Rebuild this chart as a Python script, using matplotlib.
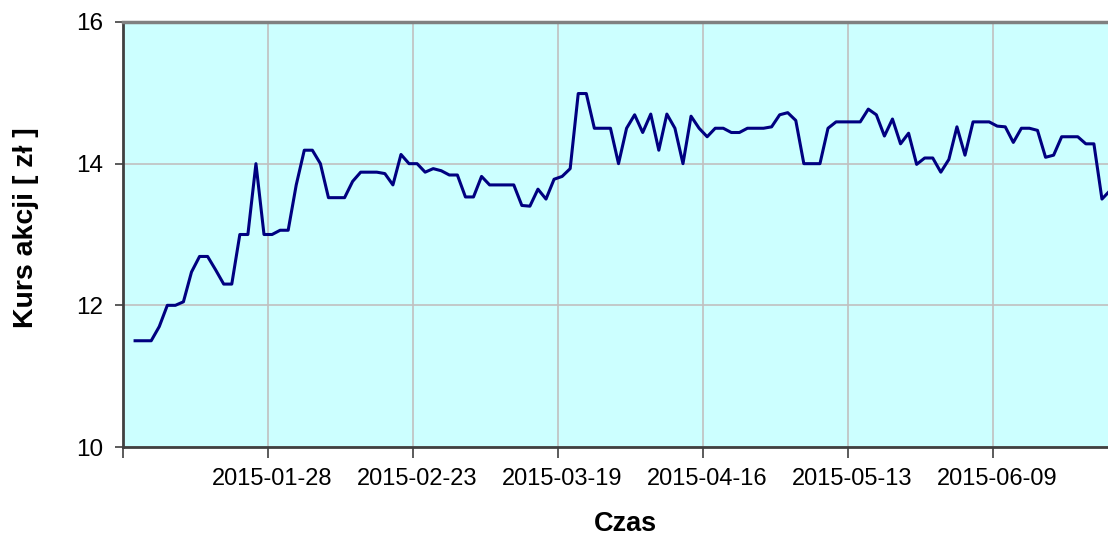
import matplotlib
matplotlib.use("Agg")
import matplotlib.pyplot as plt
from matplotlib.ticker import FixedLocator, NullFormatter

plt.rcParams['font.family'] = ['Liberation Sans', 'DejaVu Sans']

# kurs zamkniecia, kolejne sesje od 2015-01-02
kurs = [11.5, 11.5, 11.5, 11.7, 12.0, 12.0, 12.05, 12.47, 12.69, 12.69,
        12.5, 12.3, 12.3, 13.0, 13.0, 14.0, 13.0, 13.0, 13.06, 13.06,
        13.7, 14.19, 14.19, 14.0, 13.52, 13.52, 13.52, 13.75, 13.88, 13.88,
        13.88, 13.86, 13.7, 14.13, 14.0, 14.0, 13.88, 13.93, 13.9, 13.84,
        13.84, 13.53, 13.53, 13.82, 13.7, 13.7, 13.7, 13.7, 13.41, 13.4,
        13.64, 13.5, 13.78, 13.82, 13.93, 14.99, 14.99, 14.5, 14.5, 14.5,
        14.0, 14.5, 14.69, 14.44, 14.7, 14.19, 14.7, 14.5, 14.0, 14.67,
        14.5, 14.38, 14.5, 14.5, 14.44, 14.44, 14.5, 14.5, 14.5, 14.52,
        14.69, 14.72, 14.61, 14.0, 14.0, 14.0, 14.5, 14.59, 14.59, 14.59,
        14.59, 14.77, 14.69, 14.39, 14.63, 14.28, 14.43, 13.99, 14.08, 14.08,
        13.88, 14.06, 14.52, 14.12, 14.59, 14.59, 14.59, 14.53, 14.52, 14.3,
        14.5, 14.5, 14.47, 14.09, 14.12, 14.38, 14.38, 14.38, 14.28, 14.28,
        13.5, 13.62]

daty_etykiety = ["2015-01-28", "2015-02-23", "2015-03-19",
                 "2015-04-16", "2015-05-13", "2015-06-09"]
pierwsza_etykieta = 17   # indeks sesji 2015-01-28
krok = 18                # co ile sesji etykieta
y_ticks = [10, 12, 14, 16]

fig = plt.figure(figsize=(11.08, 5.38), dpi=100)
ax = fig.add_axes([123 / 1108, 91 / 538, 985 / 1108, 425 / 538])
ax.set_facecolor('#CCFFFF')

x = list(range(len(kurs)))
ax.plot(x, kurs, color='#000080', linewidth=2.2, zorder=3)

# etykiety na srodku kategorii, kreski i siatka na granicach
pozycje = [pierwsza_etykieta + krok * k for k in range(len(daty_etykiety))]
granice = [pierwsza_etykieta - krok - 0.5] + [p - 0.5 for p in pozycje]
ax.xaxis.set_major_locator(FixedLocator(granice))
ax.xaxis.set_major_formatter(NullFormatter())
ax.xaxis.set_minor_locator(FixedLocator(pozycje))
ax.set_xticklabels(daty_etykiety, minor=True)
ax.tick_params(axis='x', which='minor', length=0, pad=15, labelsize=17)
ax.tick_params(axis='x', which='major', length=8, width=1.2, color='#404040')
ax.set_xlim(granice[0], 120.75)

ax.set_ylim(10, 16)
ax.set_yticks(y_ticks)
ax.tick_params(axis='y', length=6, width=1.2, color='#404040', pad=8, labelsize=17.5)

ax.grid(True, which='major', color='#C0C0C0', linewidth=1.2)
ax.set_axisbelow(True)

ax.spines['right'].set_visible(False)
ax.spines['top'].set_color('#808080')
ax.spines['top'].set_linewidth(2.5)
ax.spines['left'].set_color('#404040')
ax.spines['left'].set_linewidth(2)
ax.spines['bottom'].set_color('#404040')
ax.spines['bottom'].set_linewidth(2)

fig.text(625 / 1108, 1 - 524 / 538, 'Czas', ha='center', va='center',
         fontsize=19.5, fontweight='bold')
fig.text(26 / 1108, 1 - 228 / 538, 'Kurs akcji [ zł ]', ha='center', va='center',
         rotation=90, fontsize=20.5, fontweight='bold')

fig.savefig('out.png', dpi=100)
